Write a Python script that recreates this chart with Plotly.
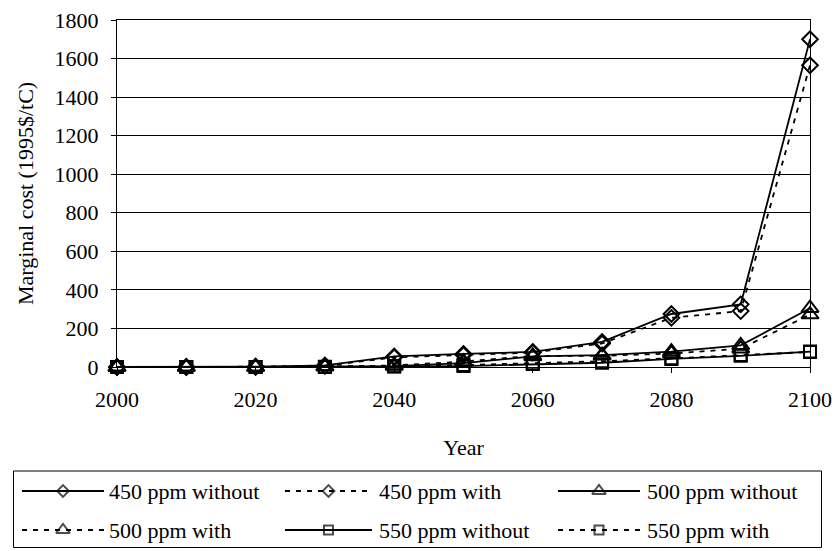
import plotly.graph_objects as go

years = [2000, 2010, 2020, 2030, 2040, 2050, 2060, 2070, 2080, 2090, 2100]
s450_without = [0, 0, 1, 8, 55, 68, 78, 130, 275, 325, 1700]
s450_with = [0, 0, 1, 6, 50, 62, 75, 122, 255, 290, 1565]
s500_without = [0, 0, 0, 2, 5, 20, 55, 62, 80, 112, 305]
s500_with = [0, 0, 0, 2, 8, 28, 58, 58, 70, 95, 272]
s550_without = [0, 0, 0, 0, 2, 5, 15, 22, 42, 58, 80]
s550_with = [0, 0, 0, 1, 4, 10, 20, 30, 45, 62, 78]

series_names = ["450 ppm without", "450 ppm with", "500 ppm without",
                "500 ppm with", "550 ppm without", "550 ppm with"]
series_values = [s450_without, s450_with, s500_without, s500_with, s550_without, s550_with]
series_symbols = ["diamond-open", "diamond-open", "triangle-up-open",
                  "triangle-up-open", "square-open", "square-open"]
series_dash = ["solid", "5px,6px", "solid", "5px,6px", "solid", "5px,6px"]
y_ticks = [0, 200, 400, 600, 800, 1000, 1200, 1400, 1600, 1800]
x_ticks = [2000, 2020, 2040, 2060, 2080, 2100]

FONT = "Liberation Serif, Times New Roman, serif"
W, H = 838, 551
ML, MR, MT, MB = 13, 16, 20, 3
PW = W - ML - MR
PH = H - MT - MB
TXT = dict(family=FONT, size=22, color="black")

fig = go.Figure()
for name, vals, sym, dash in zip(series_names, series_values, series_symbols, series_dash):
    msize = 15 if sym.startswith("triangle") else 12
    fig.add_trace(go.Scatter(
        x=years, y=vals, mode="lines+markers", name=name, showlegend=False,
        line=dict(color="black", width=1.8, dash=dash),
        marker=dict(symbol=sym, size=msize, color="black", line=dict(color="black", width=2)),
        cliponaxis=False,
    ))

# custom legend drawn in its own small axes (pixel-like units)
leg_cols = [(22, 104, 107), (285, 372, 377), (558, 640, 645)]
leg_rows = [57, 18]
for i, (name, sym, dash) in enumerate(zip(series_names, series_symbols, series_dash)):
    r, c = divmod(i, 3)
    x0, x1, xt = leg_cols[c]
    yc = leg_rows[r]
    xm = (x0 + x1) / 2
    lsize = 12 if sym.startswith("triangle") else 9
    fig.add_trace(go.Scatter(
        x=[x0, xm, x1], y=[yc, yc, yc], mode="lines+markers", showlegend=False,
        xaxis="x2", yaxis="y2", hoverinfo="skip",
        line=dict(color="black", width=1.8, dash=dash),
        marker=dict(symbol=sym, size=[0, lsize, 0], color="black", line=dict(color="black", width=2)),
    ))
    fig.add_annotation(x=xt, y=yc, xref="x2", yref="y2", text=name, showarrow=False,
                       xanchor="left", yanchor="middle",
                       font=dict(family=FONT, size=22, color="black"))

fig.add_shape(type="rect", xref="x2", yref="y2", x0=13.5, x1=821.5, y0=0.5, y1=77,
              line=dict(color="black", width=1))

fig.update_layout(
    width=W, height=H,
    margin=dict(l=ML, r=MR, t=MT, b=MB),
    paper_bgcolor="white", plot_bgcolor="white",
    font=TXT,
    xaxis=dict(
        domain=[(117 - ML) / PW, (810 - ML) / PW],
        range=[2000, 2100], tickvals=x_ticks, ticks="outside", ticklen=5,
        tickcolor="black", showline=True, linecolor="black", linewidth=1,
        mirror=True, showgrid=False, zeroline=False, automargin=False,
        ticklabelstandoff=8, tickfont=TXT,
        title=dict(text="Year", standoff=28, font=TXT),
    ),
    yaxis=dict(
        domain=[(H - MB - 367) / PH, 1],
        range=[0, 1800], tickvals=y_ticks, ticks="outside", ticklen=5,
        tickcolor="black", showline=True, linecolor="black", linewidth=1,
        mirror=True, showgrid=True, gridcolor="black", gridwidth=1,
        zeroline=False, automargin=False, ticklabelstandoff=8, tickfont=TXT,
        title=dict(text="Marginal cost (1995$/tC)", standoff=14, font=TXT),
    ),
    xaxis2=dict(domain=[0, 1], range=[ML, W - MR], anchor="y2", visible=False, fixedrange=True),
    yaxis2=dict(domain=[0, 78 / PH], range=[0, 78], anchor="x2", visible=False, fixedrange=True),
)

fig.write_html("out.html")
